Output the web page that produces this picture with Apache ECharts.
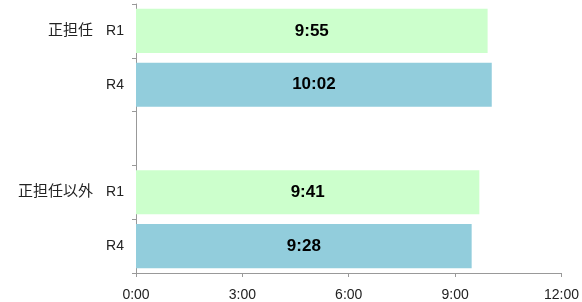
<!DOCTYPE html>
<html>
<head>
<meta charset="utf-8">
<script src="https://cdn.jsdelivr.net/npm/echarts@6/dist/echarts.min.js"></script>
<style>
html,body{margin:0;padding:0;background:#fff;}
#c{width:582px;height:302px;}
</style>
</head>
<body>
<div id="c"></div>
<script>
// categories (top to bottom)
var groups = ["正担任", "正担任", "", "正担任以外", "正担任以外"];
var rows = ["R1", "R4", "", "R1", "R4"];
// values (h:mm)
var times = ["9:55", "10:02", null, "9:41", "9:28"];
// x-axis tick labels
var xTicks = ["0:00", "3:00", "6:00", "9:00", "12:00"];

function toMin(s) { if (!s) return '-'; var p = s.split(':'); return (+p[0]) * 60 + (+p[1]); }
function fmt(m) { var h = Math.floor(m / 60), mm = Math.round(m % 60); return h + ':' + (mm < 10 ? '0' : '') + mm; }

var keys = rows.map(function (r, i) { return i + '|' + r; });
var groupLabels = groups.map(function (g, i) { return (rows[i] === 'R1') ? g : ''; });
var colorMap = { R1: '#CCFFCC', R4: '#92CDDC' };
var FONT = '"Liberation Sans", "Noto Sans CJK JP", sans-serif';

var chart = echarts.init(document.getElementById('c'), null, { renderer: 'canvas' });
chart.setOption({
  animation: false,
  grid: { left: 136, right: 19, top: 4, bottom: 28, containLabel: false },
  xAxis: {
    type: 'value', min: 0, max: 720, interval: 180,
    axisLine: { show: true, lineStyle: { color: '#999', width: 1 } },
    axisTick: { show: true, length: 4, lineStyle: { color: '#999' } },
    splitLine: { show: false },
    axisLabel: {
      margin: 15, fontSize: 14, color: '#222', fontFamily: FONT,
      formatter: function (v) { return xTicks[Math.round(v / 180)]; }
    }
  },
  yAxis: [{
    type: 'category', inverse: true, data: keys,
    axisLine: { show: true, lineStyle: { color: '#999', width: 1 } },
    axisTick: { show: true, length: 4, lineStyle: { color: '#999' } },
    axisLabel: {
      margin: 12, fontSize: 14, color: '#222', fontFamily: FONT,
      formatter: function (v) { return v.split('|')[1]; }
    }
  }, {
    type: 'category', inverse: true, data: groupLabels, position: 'left', offset: 31,
    axisLine: { show: false }, axisTick: { show: false },
    axisLabel: { margin: 12, fontSize: 15, color: '#222', fontFamily: FONT, interval: 0 }
  }],
  series: [{
    type: 'bar', yAxisIndex: 0, barCategoryGap: '18%',
    data: times.map(toMin),
    itemStyle: { color: function (p) { return colorMap[rows[p.dataIndex]] || '#ccc'; } },
    label: {
      show: true, position: 'inside', color: '#000', fontSize: 17, fontWeight: 'bold', fontFamily: FONT,
      formatter: function (p) { return fmt(p.value); }
    }
  }]
});
</script>
</body>
</html>
